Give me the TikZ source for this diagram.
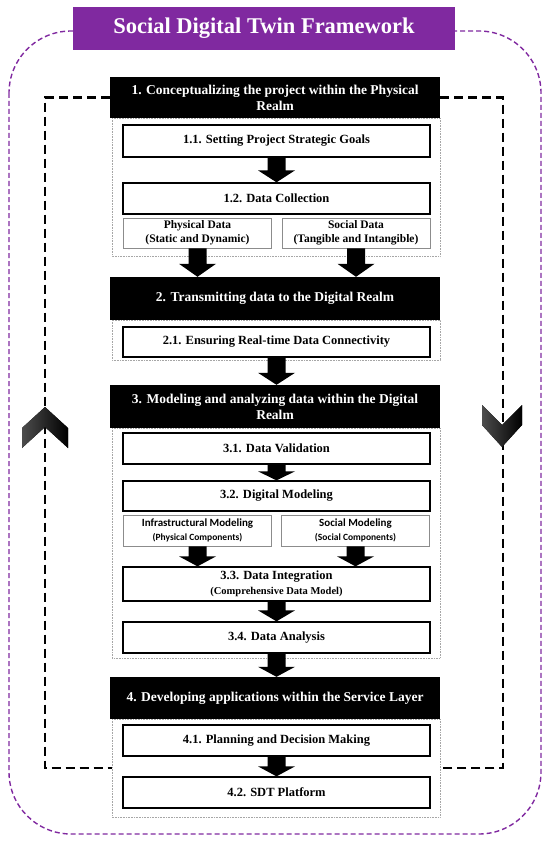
\documentclass[tikz,border=0pt]{standalone}
\usepackage{fontspec}
\setmainfont{Liberation Serif}
\newfontfamily\carl{Carlito}
\usetikzlibrary{calc}
\definecolor{sdtpurple}{RGB}{128,41,160}
\newcommand\fs[2]{\fontsize{#1}{#2}\selectfont}
\newcommand\blockarrow[3]{%
  \fill let \p1=(#1), \p2=(#2) in
    (\x1-9pt,\y1) -- (\x1+9pt,\y1) -- (\x1+9pt,\y2+#3) -- (\x1+18.5pt,\y2+#3)
    -- (\x1,\y2) -- (\x1-18.5pt,\y2+#3) -- (\x1-9pt,\y2+#3) -- cycle;}
\begin{document}
\begin{tikzpicture}[x=1pt,y=-1pt,
  title/.style={fill=sdtpurple,text=white,font=\bfseries\fs{22.5}{27},minimum width=382pt,minimum height=43pt,inner sep=0pt},
  hdr/.style={fill=black,text=white,font=\bfseries\fs{13.5}{16},minimum width=330pt,inner sep=0pt,align=center},
  box/.style={draw=black,line width=1.3pt,fill=white,font=\bfseries\fs{12.5}{15},minimum width=307pt,inner sep=0pt,align=center},
  sub/.style={draw=black!45,line width=0.8pt,fill=white,font=\bfseries\fs{11.5}{13.5},minimum width=148pt,minimum height=30pt,inner sep=0pt,align=center},
  csub/.style={sub,font=\carl\bfseries\fs{11}{13.5}},
  grp/.style={draw=black!35,densely dotted,line width=0.6pt},
  loopline/.style={draw=black,line width=2.6pt,dash pattern=on 9pt off 5pt},
  outer/.style={draw=sdtpurple,line width=1.4pt,dash pattern=on 5pt off 3pt,rounded corners=62pt},
  chev/.style={left color=black!70,right color=black,draw=none}]
\useasboundingbox (0,0) rectangle (550,845);
% outer purple frame
\draw[outer] (9,31) rectangle (541,834);
\node[title] (title) at (264,28.5) {Social Digital Twin Framework};
% dotted groups
\draw[grp] (112,118) rectangle (440,256);
\draw[grp] (112,320) rectangle (440,360);
\draw[grp] (112,428) rectangle (440,658);
\draw[grp] (112,719) rectangle (440,817);
% headers
\node[hdr,minimum height=41pt] (h1) at (275,97.5) {1. Conceptualizing the project within the Physical\\Realm};
\node[hdr,minimum height=43pt] (h2) at (275,298.5) {2. Transmitting data to the Digital Realm};
\node[hdr,minimum height=43pt] (h3) at (275,406.5) {3. Modeling and analyzing data within the Digital\\Realm};
\node[hdr,minimum height=42pt] (h4) at (275,698) {4. Developing applications within the Service Layer};
% boxes
\node[box,minimum height=32pt] (b11) at (276.5,141) {1.1. Setting Project Strategic Goals};
\node[box,minimum height=31pt] (b12) at (276.5,198.5) {1.2. Data Collection};
\node[sub] (pd) at (197.5,233) {Physical Data\\(Static and Dynamic)};
\node[sub] (sd) at (356,233) {Social Data\\(Tangible and Intangible)};
\node[box,minimum height=30pt] (b21) at (276.5,342) {2.1. Ensuring Real-time Data Connectivity};
\node[box,minimum height=31pt] (b31) at (276.5,448.5) {3.1. Data Validation};
\node[box,minimum height=30pt] (b32) at (276.5,496) {3.2. Digital Modeling};
\node[csub,minimum height=31pt] (im) at (197.5,530.5) {Infrastructural Modeling\\{\fs{9.5}{11.5}(Physical Components)}};
\node[csub,minimum height=31pt] (sm) at (355.5,530.5) {Social Modeling\\{\fs{9.5}{11.5}(Social Components)}};
\node[box,minimum height=34pt] (b33) at (276.5,584) {3.3. Data Integration\\{\fs{10.5}{12.5}(Comprehensive Data Model)}};
\node[box,minimum height=31pt] (b34) at (276.5,637.5) {3.4. Data Analysis};
\node[box,minimum height=31pt] (b41) at (276.5,740.5) {4.1. Planning and Decision Making};
\node[box,minimum height=31pt] (b42) at (276.5,792.5) {4.2. SDT Platform};
% block arrows
\blockarrow{b11.south}{b12.north}{12pt}
\blockarrow{pd.south}{pd.south |- h2.north}{13pt}
\blockarrow{sd.south}{sd.south |- h2.north}{13pt}
\blockarrow{b21.south}{h3.north}{12pt}
\blockarrow{b31.south}{b32.north}{9pt}
\blockarrow{im.south}{im.south |- b33.north}{10pt}
\blockarrow{sm.south}{sm.south |- b33.north}{10pt}
\blockarrow{b33.south}{b34.north}{11pt}
\blockarrow{b34.south}{h4.north}{10pt}
\blockarrow{b41.south}{b42.north}{10pt}
% feedback loop
\coordinate (lb) at (45,768);
\coordinate (le) at (112,768);
\coordinate (rb) at (503,768);
\coordinate (re) at (440,768);
\draw[loopline] (h1.west) -| (lb) -- (le);
\draw[loopline] (h1.east) -| (rb) -- (re);
\fill[chev,shift={(45,427)}] (0,-20) -- (23,1) -- (23,21) -- (0,0) -- (-23,21) -- (-23,1) -- cycle;
\fill[chev,shift={(502,425)}] (-20,-20) -- (0,0) -- (20,-20) -- (20,0) -- (0,22) -- (-20,0) -- cycle;
\end{tikzpicture}
\end{document}
